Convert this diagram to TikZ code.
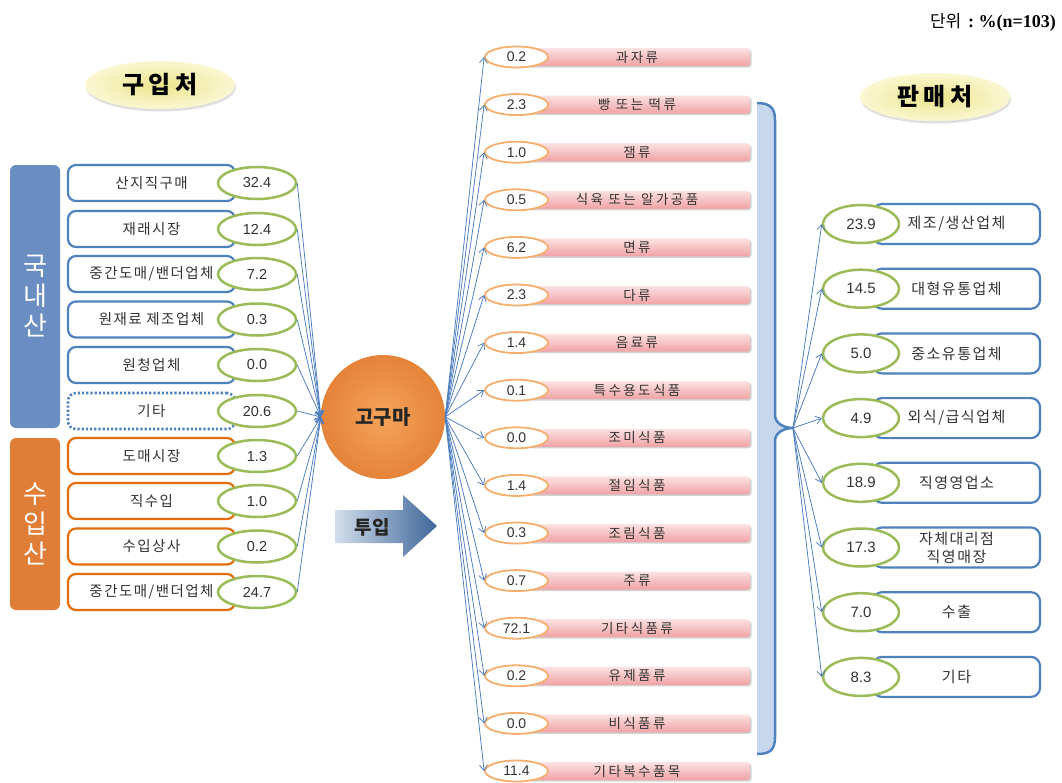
\documentclass[tikz,border=0pt]{standalone}
\usepackage{fontspec}
\setmainfont{Noto Sans CJK KR}
\newfontfamily\kr[LetterSpace=10]{Noto Sans CJK KR}
\newfontfamily\krw[LetterSpace=18]{Noto Sans CJK KR}
\newfontfamily\num{Liberation Sans}
\newfontfamily\tnr{Liberation Serif}
\usetikzlibrary{shapes.geometric,arrows.meta,shadows}
\definecolor{bluebd}{HTML}{4F81BD}
\definecolor{bluebar}{HTML}{6A8EC2}
\definecolor{orangebd}{HTML}{E46C0A}
\definecolor{orangebar}{HTML}{E07E38}
\definecolor{greenbd}{HTML}{9BBB59}
\definecolor{peach}{HTML}{F5AE6E}
\definecolor{pinktop}{HTML}{FCE2E2}
\definecolor{pinkbot}{HTML}{F0A2A4}
\definecolor{bracefill}{HTML}{C6D7EE}
\definecolor{arrowc}{HTML}{4A7CC0}
\definecolor{txt}{HTML}{333333}
\definecolor{yelin}{HTML}{ECE48C}
\definecolor{yelout}{HTML}{FAF7D2}
\definecolor{orin}{HTML}{F5A35A}
\definecolor{orout}{HTML}{E5833A}
\definecolor{arrl}{HTML}{D3DEEC}
\definecolor{arrr}{HTML}{3E6699}
\begin{document}
\begin{tikzpicture}[x=1pt,y=-1pt,
  lbox/.style={draw=bluebd, line width=2.2pt, rounded corners=8pt, fill=white,
    minimum width=167pt, minimum height=36pt, inner sep=0pt, text=txt,
    font=\kr\fontsize{14.5}{16}\selectfont},
  ibox/.style={lbox, draw=orangebd},
  lell/.style={ellipse, draw=greenbd, line width=2.5pt, fill=white,
    minimum width=78pt, minimum height=32pt, inner sep=0pt, text=txt,
    font=\num\fontsize{14.5}{16}\selectfont},
  bar/.style={rounded corners=3pt, top color=pinktop, bottom color=pinkbot,
    minimum width=222pt, minimum height=18pt, inner sep=0pt, text=txt,
    font=\krw\fontsize{13.5}{15}\selectfont,
    drop shadow={shadow xshift=1.5pt, shadow yshift=-1.5pt, opacity=0.35}},
  mell/.style={ellipse, draw=peach, line width=1.8pt, fill=white,
    minimum width=63pt, minimum height=21pt, inner sep=0pt, text=txt,
    font=\num\fontsize{14}{16}\selectfont},
  rbox/.style={draw=bluebd, line width=2.2pt, rounded corners=9pt, fill=white,
    minimum width=167pt, minimum height=40pt, inner sep=0pt, text=txt, align=center,
    font=\kr\fontsize{15}{18}\selectfont},
  rell/.style={ellipse, draw=greenbd, line width=2.5pt, fill=white,
    minimum width=76pt, minimum height=38pt, inner sep=0pt, text=txt,
    font=\num\fontsize{15}{17}\selectfont},
  title/.style={ellipse, inner color=yelin, outer color=yelout,
    minimum width=150pt, minimum height=48pt, inner sep=0pt,
    font=\krw\bfseries\fontsize{24}{28}\selectfont,
    drop shadow={shadow xshift=1pt, shadow yshift=-2.5pt, opacity=0.25}},
  arr/.style={draw=arrowc, line width=0.75pt, -{Straight Barb[length=5.5pt,width=8pt]}},
  sidebar/.style={rounded corners=6pt, minimum width=50pt, inner sep=0pt, text=white,
    align=center, font=\fontsize{26}{30}\selectfont}
]
\useasboundingbox (0,0) rectangle (1062,782);
\fill[white] (0,0) rectangle (1062,782);

% unit
\node[anchor=east, inner sep=0pt] (unit) at (1056,22)
  {{\fontsize{17}{19}\selectfont 단위} {\tnr\bfseries\fontsize{18}{20}\selectfont\ :\ \%(n=103)}};

% titles
\node[title] (buy) at (160,85) {구입처};
\node[title] (sell) at (935,97) {판매처};

% side bars
\node[sidebar, fill=bluebar, minimum height=263pt] (dom) at (35,296.5) {국\\내\\산};
\node[sidebar, fill=orangebar, minimum height=172pt] (imp) at (35,524) {수\\입\\산};

% central circle
\node[circle, minimum size=124pt, inner sep=0pt, inner color=orin, outer color=orout,
  font=\fontsize{20}{24}\selectfont\bfseries, text=black!85] (G) at (383,417) {고구마};

% input arrow
\shade[left color=arrl, right color=arrr] (335,510) -- (403,510) -- (403,495) -- (437,526) -- (403,557) -- (403,543) -- (335,543) -- cycle;
\node[font=\fontsize{19}{22}\selectfont\bfseries, text=black!85] (tuip) at (372,527) {투입};

% left boxes (domestic)
\foreach \y/\t/\v [count=\i] in {183/산지직구매/32.4, 229/재래시장/12.4, 274/{중간도매/밴더업체}/7.2, 319.5/원재료 제조업체/0.3, 365/원청업체/0.0}{
  \node[lbox] (L\i) at (151.5,\y) {\t};
  \node[lell] (LE\i) at (257,\y) {\v};
  \draw[arr] (LE\i.east) -- (G.west);
}
\node[lbox, dotted, line width=2.6pt] (L6) at (151.5,411) {기타};
\node[lell] (LE6) at (257,411) {20.6};
\draw[arr] (LE6.east) -- (G.west);
\foreach \y/\t/\v [count=\i from 7] in {456/도매시장/1.3, 501/직수입/1.0, 546.5/수입상사/0.2, 592/{중간도매/밴더업체}/24.7}{
  \node[ibox] (L\i) at (151.5,\y) {\t};
  \node[lell] (LE\i) at (257,\y) {\v};
  \draw[arr] (LE\i.east) -- (G.west);
}

% middle items
\foreach \v/\t [count=\i] in {0.2/과자류, 2.3/빵 또는 떡류, 1.0/잼류, 0.5/식육 또는 알가공품, 6.2/면류, 2.3/다류, 1.4/음료류, 0.1/특수용도식품, 0.0/조미식품, 1.4/절임식품, 0.3/조림식품, 0.7/주류, 72.1/기타식품류, 0.2/유제품류, 0.0/비식품류, 11.4/기타복수품목}{
  \pgfmathsetmacro\yy{57+(\i-1)*47.6}
  \node[bar] (MB\i) at (639,\yy) {\hspace*{-4pt}\t};
  \node[mell] (ME\i) at (516.5,\yy) {\v};
  \draw[arr] (G.east) -- (ME\i.west);
}

% brace
\fill[bracefill] (757,103) .. controls (770,103) and (775,108) .. (775,120) -- (775,415)
  .. controls (775,424) and (785,428) .. (793,428) .. controls (785,428) and (775,432) .. (775,441)
  -- (775,737) .. controls (775,750) and (770,754) .. (757,754) -- cycle;
\draw[bluebd, line width=2.5pt] (757,103) .. controls (770,103) and (775,108) .. (775,120) -- (775,415)
  .. controls (775,424) and (785,428) .. (793,428) .. controls (785,428) and (775,432) .. (775,441)
  -- (775,737) .. controls (775,750) and (770,754) .. (757,754);
\coordinate (BP) at (793,428);

% right items
\foreach \v/\t [count=\i] in {23.9/{제조/생산업체}, 14.5/대형유통업체, 5.0/중소유통업체, 4.9/{외식/급식업체}, 18.9/직영영업소, 17.3/{자체대리점\\직영매장}, 7.0/수출, 8.3/기타}{
  \pgfmathsetmacro\yy{224+(\i-1)*64.7}
  \node[rbox] (RB\i) at (956.5,\yy) {\t};
  \node[rell] (RE\i) at (861,\yy) {\v};
  \draw[arr] (BP) -- (RE\i.west);
}
\end{tikzpicture}
\end{document}
